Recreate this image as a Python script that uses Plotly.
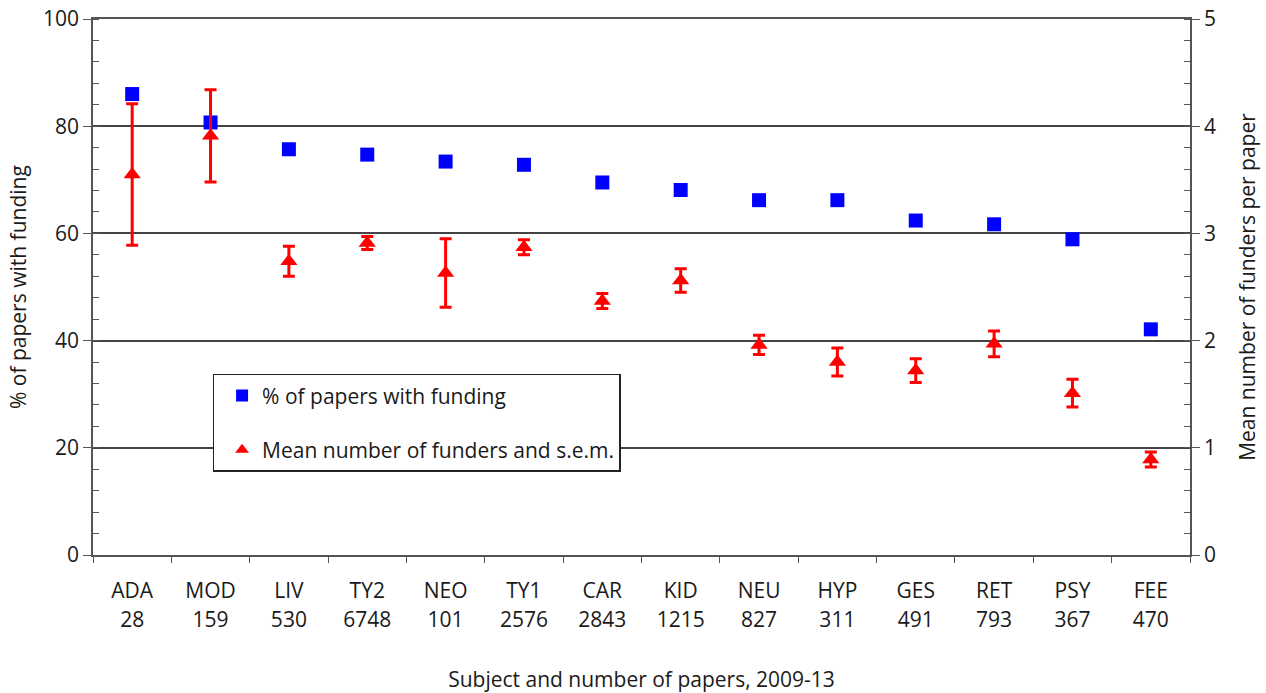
import plotly.graph_objects as go

subjects = ["ADA", "MOD", "LIV", "TY2", "NEO", "TY1", "CAR", "KID", "NEU", "HYP", "GES", "RET", "PSY", "FEE"]
n_papers = ["28", "159", "530", "6748", "101", "2576", "2843", "1215", "827", "311", "491", "793", "367", "470"]
pct_funded = [86.0, 80.7, 75.7, 74.7, 73.4, 72.8, 69.5, 68.1, 66.2, 66.2, 62.4, 61.7, 58.9, 42.1]
mean_funders = [3.55, 3.91, 2.74, 2.91, 2.63, 2.87, 2.37, 2.56, 1.96, 1.80, 1.72, 1.97, 1.51, 0.89]
sem_funders = [0.66, 0.43, 0.14, 0.06, 0.32, 0.07, 0.07, 0.11, 0.09, 0.13, 0.11, 0.12, 0.13, 0.07]

FONT = "Open Sans"
FS = 21
TXT = "#1a1a1a"
AX = "#555"

fig = go.Figure()
fig.add_trace(go.Scatter(
    x=subjects, y=pct_funded, mode="markers", name="% of papers with funding",
    marker=dict(symbol="square", size=14, color="#0000FF"),
    legendgroup="a", xaxis="x", yaxis="y"))
fig.add_trace(go.Scatter(
    x=subjects, y=mean_funders, mode="markers", name="Mean number of funders and s.e.m.",
    marker=dict(symbol="triangle-up", size=15, color="#FF0000"),
    error_y=dict(type="data", array=sem_funders, color="#FF0000", thickness=3, width=6),
    legendgroup="b", xaxis="x", yaxis="y2"))
# carrier for the second row of category labels (paper counts); draws nothing
fig.add_trace(go.Scatter(
    x=list(range(len(subjects))), y=[None] * len(subjects), mode="markers",
    showlegend=False, hoverinfo="skip", xaxis="x2", yaxis="y"))

fig.update_layout(
    width=1266, height=693,
    margin=dict(l=93, r=76, t=19, b=138),
    paper_bgcolor="white", plot_bgcolor="white",
    font=dict(family=FONT, size=FS, color=TXT),
    showlegend=True,
    legend=dict(x=0.109, y=0.338, xanchor="left", yanchor="top",
                bordercolor="#222", borderwidth=1.5, bgcolor="white",
                font=dict(family=FONT, size=FS, color=TXT),
                tracegroupgap=24, itemsizing="constant", indentation=8,
                entrywidth=416, entrywidthmode="pixels"),
    xaxis=dict(type="category", categoryorder="array", categoryarray=subjects,
               range=[-0.5, 13.5], tickson="boundaries", ticks="outside", ticklen=6,
               tickcolor=AX, showline=True, mirror=True, linecolor=AX, linewidth=1.5,
               showgrid=False, zeroline=False, ticklabelstandoff=16, automargin=False,
               tickfont=dict(size=FS),
               title=dict(text="Subject and number of papers, 2009-13", standoff=83,
                          font=dict(size=FS))),
    xaxis2=dict(overlaying="x", anchor="y", type="linear", range=[-0.5, 13.5], side="bottom",
                tickmode="array", tickvals=list(range(len(subjects))), ticktext=n_papers,
                ticks="", showline=False, showgrid=False, zeroline=False, automargin=False,
                ticklabelstandoff=50, tickfont=dict(size=FS)),
    yaxis=dict(range=[0, 100], dtick=20, tick0=0, ticks="outside", ticklen=8, tickcolor=AX,
               minor=dict(dtick=4, ticks="inside", ticklen=6, tickcolor=AX),
               showline=True, linecolor=AX, linewidth=1.5, automargin=False,
               showgrid=True, gridcolor="#444", gridwidth=1.5, zeroline=False,
               tickfont=dict(size=FS), ticklabeloverflow="allow"),
    yaxis2=dict(overlaying="y", side="right", range=[0, 5], dtick=1, tick0=0,
                ticks="outside", ticklen=8, tickcolor=AX, automargin=False,
                minor=dict(dtick=0.2, ticks="inside", ticklen=6, tickcolor=AX),
                showline=True, linecolor=AX, linewidth=1.5, ticklabeloverflow="allow",
                showgrid=False, zeroline=False, tickfont=dict(size=FS),
                title=dict(text="Mean number of funders per paper", standoff=25, font=dict(size=FS))),
    annotations=[dict(text="% of papers with funding", textangle=-90, xref="paper", yref="paper",
                      x=0, y=0.5, xanchor="center", yanchor="middle", xshift=-75,
                      showarrow=False, font=dict(family=FONT, size=FS, color=TXT))],
)

fig.write_html("out.html", config={"displayModeBar": False},
               post_script="document.body.style.margin='0';")
